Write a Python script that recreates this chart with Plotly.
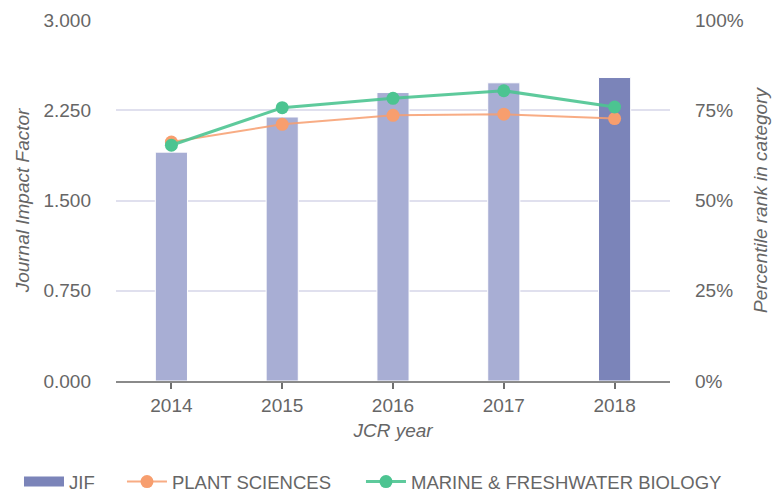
import plotly.graph_objects as go

years = ["2014", "2015", "2016", "2017", "2018"]
jif = [1.902, 2.194, 2.397, 2.478, 2.522]
plant_sciences = [66.2, 71.1, 73.6, 73.9, 72.7]
marine_biology = [65.3, 75.7, 78.3, 80.4, 75.9]
bar_colors = ["#a8aed4", "#a8aed4", "#a8aed4", "#a8aed4", "#7b84b9"]

FONT = "Liberation Sans, Arial, sans-serif"
TXT = "#666666"

fig = go.Figure()
fig.add_trace(go.Bar(
    x=years, y=jif, name="JIF", showlegend=False,
    marker=dict(color=bar_colors, line=dict(color="white", width=1)),
    width=0.29, yaxis="y",
))
# legend entry for the JIF bars (wide dark swatch as in the reference)
fig.add_trace(go.Scatter(
    x=[years[0]], y=[None], name="JIF", legend="legend", mode="lines",
    line=dict(color="#7b84b9", width=18), yaxis="y", hoverinfo="skip",
))
fig.add_trace(go.Scatter(
    x=years, y=plant_sciences, name="PLANT SCIENCES", yaxis="y2", legend="legend2",
    mode="lines+markers",
    line=dict(color="rgba(247,158,110,0.85)", width=2),
    marker=dict(color="#f79e6e", size=13),
))
fig.add_trace(go.Scatter(
    x=years, y=marine_biology, name="MARINE & FRESHWATER BIOLOGY", yaxis="y2", legend="legend3",
    mode="lines+markers",
    line=dict(color="rgba(76,196,145,0.9)", width=3),
    marker=dict(color="#4cc491", size=13),
))

leg_common = dict(orientation="h", xanchor="left", y=-0.28, yanchor="middle",
                  font=dict(size=18.5, color=TXT), itemwidth=40, bgcolor="rgba(0,0,0,0)")

fig.update_layout(
    width=774, height=492,
    margin=dict(l=116, r=104, t=20, b=111, autoexpand=False),
    paper_bgcolor="white", plot_bgcolor="white",
    font=dict(family=FONT, size=19, color=TXT),
    showlegend=True, barmode="overlay",
    legend=dict(x=-0.1751, **leg_common),
    legend2=dict(x=0.0108, **leg_common),
    legend3=dict(x=0.4422, **leg_common),
    xaxis=dict(
        type="category", showline=True, linecolor="#8a8a8a", linewidth=2,
        ticks="outside", ticklen=6, tickwidth=2, tickcolor="#6e6e6e",
        showgrid=False, tickfont=dict(size=19, color=TXT), automargin=False,
        title=dict(text="<i>JCR year</i>", standoff=9, font=dict(size=19, color=TXT)),
    ),
    yaxis=dict(
        range=[0, 3], dtick=0.75, tickformat=".3f",
        showgrid=True, gridcolor="#e0e0ee", gridwidth=1.5, zeroline=False,
        showline=False, ticks="", ticklabelstandoff=24, automargin=False,
        tickfont=dict(size=19, color=TXT),
        title=dict(text="<i>Journal Impact Factor</i>", standoff=8, font=dict(size=19, color=TXT)),
    ),
    yaxis2=dict(
        range=[0, 100], dtick=25, ticksuffix="%", overlaying="y", side="right",
        showgrid=False, zeroline=False, showline=False, ticks="", ticklabelstandoff=24,
        automargin=False, tickfont=dict(size=19, color=TXT),
        title=dict(text="<i>Percentile rank in category</i>", standoff=10, font=dict(size=19, color=TXT)),
    ),
)

fig.write_html("out.html", config={"displayModeBar": False},
               post_script="document.body.style.margin='0';document.body.style.overflow='hidden';")
